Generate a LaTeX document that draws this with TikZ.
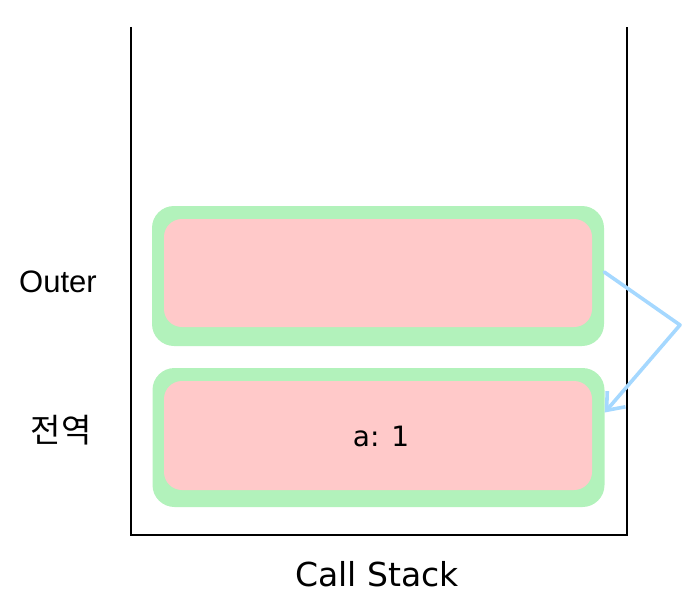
\documentclass[tikz,border=0pt]{standalone}
\usepackage{fontspec}
\setmainfont{Liberation Sans}
\newfontfamily\krfont{Noto Sans CJK KR}
\newfontfamily\handfont{DejaVu Sans}
\usepackage{tikz}
\usetikzlibrary{arrows.meta,positioning}
\definecolor{frmgreen}{HTML}{B2F2BB}
\definecolor{boxpink}{HTML}{FFC9C9}
\definecolor{arrblue}{HTML}{A5D8FF}

\begin{document}
\begin{tikzpicture}[
  x=1pt, y=-1pt,
  frame/.style={fill=frmgreen, rounded corners=22pt, minimum width=452pt, minimum height=140pt, inner sep=0pt},
  slot/.style={fill=boxpink, rounded corners=18pt, minimum width=428pt, minimum height=108pt, inner sep=0pt},
  lbl/.style={font=\fontsize{31}{36}\selectfont, inner sep=0pt},
  hand/.style={font=\handfont\fontsize{28}{32}\selectfont, inner sep=0pt},
  link/.style={draw=arrblue, line width=3.6pt, line cap=round, line join=round, -{Straight Barb[length=15pt, width=24pt, line width=3.6pt]}},
]
\useasboundingbox (0,0) rectangle (692,602);
% stack container
\draw[line width=1.5pt] (131,27) -- (131,535) -- (627,535) -- (627,27);
\node[hand, font=\handfont\fontsize{33}{38}\selectfont] (stacklbl) at (377,574) {Call Stack};
% frames
\node[frame] (outerframe) at (378,276) {};
\node[slot] (outerslot) at (378,273) {};
\node[frame, minimum height=139pt] (globalframe) at (378.5,437.5) {};
\node[slot, minimum height=109pt] (globalslot) at (378,435.5) {};
\node[hand] (avar) at (381,436) {a: 1};
% frame names
\node[lbl] (outername) at (58,282) {Outer};
\node[lbl, font=\krfont\fontsize{33}{38}\selectfont] (globalname) at (61,430) {전역};
% scope link
\coordinate (bend) at (680,325);
\draw[link] ([yshift=4pt]outerframe.east) -- (bend) -- ([yshift=25pt]globalframe.east);
\end{tikzpicture}
\end{document}
